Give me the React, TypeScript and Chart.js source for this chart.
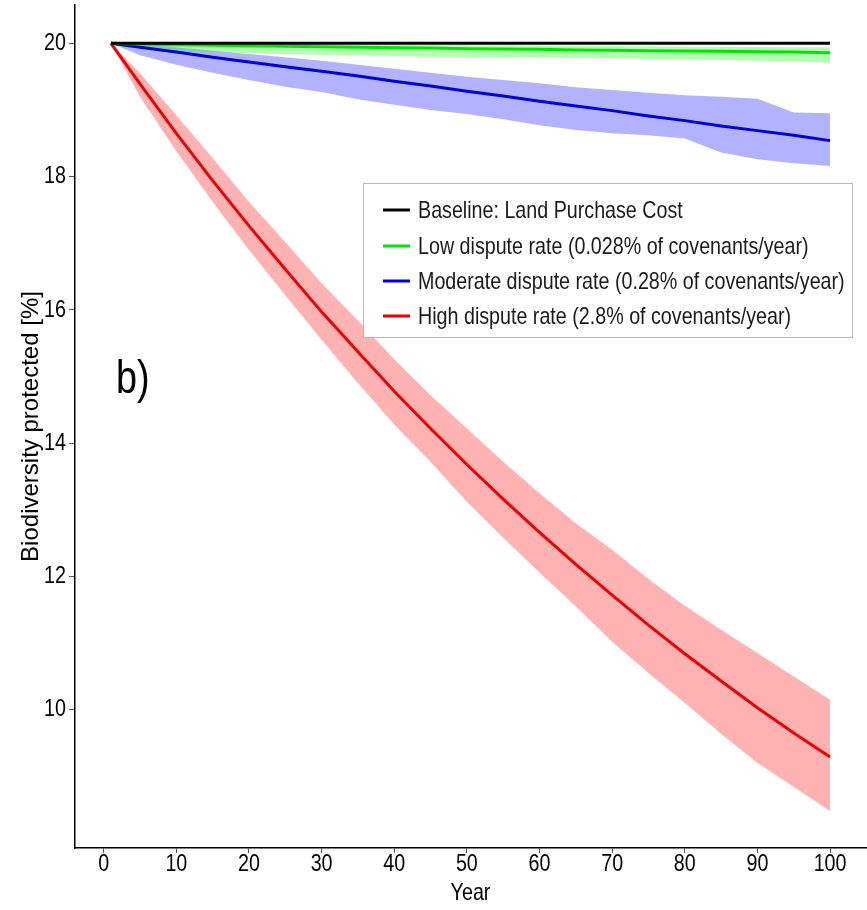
import React, { useEffect, useRef } from 'react';
import { Chart, registerables } from 'chart.js';

Chart.register(...registerables);

// ---- data ----
const YEARS = [1, 5, 10, 15, 20, 25, 30, 35, 40, 45, 50, 55, 60, 65, 70, 75, 80, 85, 90, 95, 100];

const BASELINE = [20, 20, 20, 20, 20, 20, 20, 20, 20, 20, 20, 20, 20, 20, 20, 20, 20, 20, 20, 20, 20];

const LOW_MEAN = [20, 19.99, 19.98, 19.97, 19.965, 19.955, 19.95, 19.94, 19.935, 19.93, 19.92, 19.915, 19.91, 19.9, 19.895, 19.89, 19.885, 19.88, 19.875, 19.87, 19.86];
const LOW_UPPER = [20, 20, 20, 19.995, 19.99, 19.99, 19.985, 19.98, 19.98, 19.975, 19.97, 19.97, 19.965, 19.96, 19.96, 19.955, 19.95, 19.95, 19.945, 19.94, 19.94];
const LOW_LOWER = [20, 19.95, 19.9, 19.87, 19.85, 19.84, 19.83, 19.82, 19.81, 19.8, 19.795, 19.79, 19.785, 19.78, 19.775, 19.77, 19.76, 19.75, 19.74, 19.73, 19.71];

const MOD_MEAN = [20, 19.94, 19.87, 19.79, 19.72, 19.65, 19.58, 19.51, 19.43, 19.36, 19.28, 19.21, 19.13, 19.06, 18.99, 18.91, 18.84, 18.76, 18.69, 18.62, 18.54];
const MOD_UPPER = [20, 19.98, 19.94, 19.89, 19.84, 19.79, 19.74, 19.68, 19.62, 19.56, 19.5, 19.45, 19.4, 19.34, 19.3, 19.26, 19.22, 19.2, 19.17, 18.96, 18.95];
const MOD_LOWER = [20, 19.82, 19.68, 19.56, 19.45, 19.35, 19.27, 19.16, 19.08, 19.0, 18.94, 18.86, 18.77, 18.7, 18.65, 18.62, 18.57, 18.36, 18.26, 18.2, 18.16];

const HIGH_MEAN = [20, 19.39, 18.65, 17.94, 17.26, 16.61, 15.97, 15.37, 14.78, 14.22, 13.68, 13.16, 12.66, 12.18, 11.72, 11.27, 10.84, 10.43, 10.03, 9.65, 9.29];
const HIGH_UPPER = [20, 19.55, 18.92, 18.28, 17.62, 17.02, 16.4, 15.84, 15.26, 14.72, 14.22, 13.72, 13.25, 12.8, 12.4, 11.96, 11.56, 11.2, 10.85, 10.5, 10.15];
const HIGH_LOWER = [20, 19.2, 18.38, 17.62, 16.9, 16.22, 15.55, 14.9, 14.28, 13.72, 13.12, 12.58, 12.06, 11.55, 11.02, 10.55, 10.1, 9.64, 9.2, 8.84, 8.48];

const X_TICKS = [0, 10, 20, 30, 40, 50, 60, 70, 80, 90, 100];
const Y_TICKS = [10, 12, 14, 16, 18, 20];

const LEGEND_LABELS = [
  'Baseline: Land Purchase Cost',
  'Low dispute rate (0.028% of covenants/year)',
  'Moderate dispute rate (0.28% of covenants/year)',
  'High dispute rate (2.8% of covenants/year)',
];
const LINE_COLORS = ['#000000', '#00e600', '#0000dd', '#ee0000'];
const BAND_COLORS = ['rgba(0,255,0,0.3)', 'rgba(0,0,255,0.3)', 'rgba(255,0,0,0.3)'];

const PANEL_LABEL = 'b)';
const X_TITLE = 'Year';
const Y_TITLE = 'Biodiversity protected [%]';

const SANS = '"Liberation Sans", Arial, sans-serif';
const SQUISH = 0.82; // the reference's horizontal text is condensed

const pts = (arr: number[]) => YEARS.map((x, i) => ({ x, y: arr[i] }));

// draw horizontal (unrotated) text condensed, like the reference
const squishPlugin = {
  id: 'squish',
  beforeDraw(chart: any) {
    const ctx = chart.ctx;
    const orig = ctx.fillText;
    ctx.__origFillText = orig;
    ctx.fillText = function (text: string, x: number, y: number, maxWidth?: number) {
      const t = this.getTransform();
      if (Math.abs(t.b) > 1e-6 || Math.abs(t.c) > 1e-6) {
        return maxWidth === undefined ? orig.call(this, text, x, y) : orig.call(this, text, x, y, maxWidth);
      }
      this.save();
      this.translate(x, y);
      this.scale(SQUISH, 1);
      if (maxWidth === undefined) orig.call(this, text, 0, 0);
      else orig.call(this, text, 0, 0, maxWidth / SQUISH);
      this.restore();
    };
  },
  afterDraw(chart: any) {
    const ctx = chart.ctx;
    if (ctx.__origFillText) {
      ctx.fillText = ctx.__origFillText;
      delete ctx.__origFillText;
    }
  },
};

const annotPlugin = {
  id: 'annot',
  afterDatasetsDraw(chart: any) {
    const { ctx, chartArea } = chart;
    ctx.save();
    // legend box
    const bx = 363, by = 183, bw = 489, bh = 154;
    ctx.fillStyle = '#ffffff';
    ctx.fillRect(bx, by, bw, bh);
    ctx.strokeStyle = '#b8b8b8';
    ctx.lineWidth = 1;
    ctx.strokeRect(bx + 0.5, by + 0.5, bw, bh);
    const rows = [210, 246, 281, 316];
    ctx.font = `24px ${SANS}`;
    ctx.textBaseline = 'middle';
    ctx.textAlign = 'left';
    LEGEND_LABELS.forEach((lab, i) => {
      ctx.strokeStyle = LINE_COLORS[i];
      ctx.lineWidth = 3;
      ctx.beginPath();
      ctx.moveTo(383, rows[i]);
      ctx.lineTo(410, rows[i]);
      ctx.stroke();
      ctx.fillStyle = '#1a1a1a';
      ctx.fillText(lab, 418, rows[i] + 1);
    });
    // panel label
    ctx.font = `46px ${SANS}`;
    ctx.fillStyle = '#000';
    ctx.textBaseline = 'alphabetic';
    ctx.fillText(PANEL_LABEL, chartArea.left + 41, 393);
    ctx.restore();
  },
};

export default function App() {
  const ref = useRef<HTMLCanvasElement | null>(null);
  useEffect(() => {
    if (!ref.current) return;
    const lineDs = (label: string, data: number[], color: string, order: number) => ({
      label,
      data: pts(data),
      borderColor: color,
      backgroundColor: color,
      borderWidth: 3,
      pointRadius: 0,
      tension: 0,
      fill: false,
      order,
    });
    const bandDs = (data: number[], color: string, fill: any, order: number) => ({
      label: '',
      data: pts(data),
      borderColor: 'transparent',
      backgroundColor: color,
      borderWidth: 0,
      pointRadius: 0,
      tension: 0,
      fill,
      order,
    });
    const chart = new Chart(ref.current, {
      type: 'line',
      data: {
        datasets: [
          lineDs(LEGEND_LABELS[0], BASELINE, LINE_COLORS[0], 0),
          lineDs(LEGEND_LABELS[1], LOW_MEAN, LINE_COLORS[1], 1),
          lineDs(LEGEND_LABELS[2], MOD_MEAN, LINE_COLORS[2], 2),
          lineDs(LEGEND_LABELS[3], HIGH_MEAN, LINE_COLORS[3], 3),
          bandDs(HIGH_UPPER, BAND_COLORS[2], '+1', 10),
          bandDs(HIGH_LOWER, BAND_COLORS[2], false, 11),
          bandDs(MOD_UPPER, BAND_COLORS[1], '+1', 8),
          bandDs(MOD_LOWER, BAND_COLORS[1], false, 9),
          bandDs(LOW_UPPER, BAND_COLORS[0], '+1', 6),
          bandDs(LOW_LOWER, BAND_COLORS[0], false, 7),
        ],
      },
      options: {
        animation: false,
        responsive: false,
        devicePixelRatio: 1,
        layout: { padding: { top: 5, right: 1, left: 0, bottom: 0 } },
        plugins: { legend: { display: false }, tooltip: { enabled: false } },
        scales: {
          x: {
            type: 'linear',
            min: -3.95,
            max: 104.95,
            afterBuildTicks: (s: any) => { s.ticks = X_TICKS.map((v) => ({ value: v })); },
            afterFit: (s: any) => { s.height = 62; s.paddingLeft = 0; s.paddingRight = 0; },
            grid: { drawOnChartArea: false, drawTicks: true, tickLength: 5, color: '#555', lineWidth: 1 },
            border: { display: true, color: '#000', width: 1.5 },
            ticks: { color: '#000', font: { family: SANS, size: 24 }, padding: -3, maxRotation: 0, autoSkip: false },
            title: { display: true, text: X_TITLE, color: '#000', font: { family: SANS, size: 24 }, padding: { top: 0, bottom: 2 } },
          },
          y: {
            type: 'linear',
            min: 7.925,
            max: 20.575,
            afterBuildTicks: (s: any) => { s.ticks = Y_TICKS.map((v) => ({ value: v })); },
            afterFit: (s: any) => { s.width = 75; s.paddingTop = 0; s.paddingBottom = 0; },
            grid: { drawOnChartArea: false, drawTicks: true, tickLength: 6, color: '#555', lineWidth: 1 },
            border: { display: true, color: '#000', width: 1.5 },
            ticks: { color: '#000', font: { family: SANS, size: 24 }, padding: 3, autoSkip: false },
            title: { display: true, text: Y_TITLE, color: '#000', font: { family: SANS, size: 24 }, padding: { top: 17, bottom: 0 } },
          },
        },
      },
      plugins: [squishPlugin, annotPlugin],
    } as any);
    return () => chart.destroy();
  }, []);
  return (
    <div style={{ position: 'absolute', left: 0, top: 0, width: 867, height: 910, background: '#fff' }}>
      <canvas ref={ref} width={867} height={910} style={{ display: 'block' }} />
    </div>
  );
}
